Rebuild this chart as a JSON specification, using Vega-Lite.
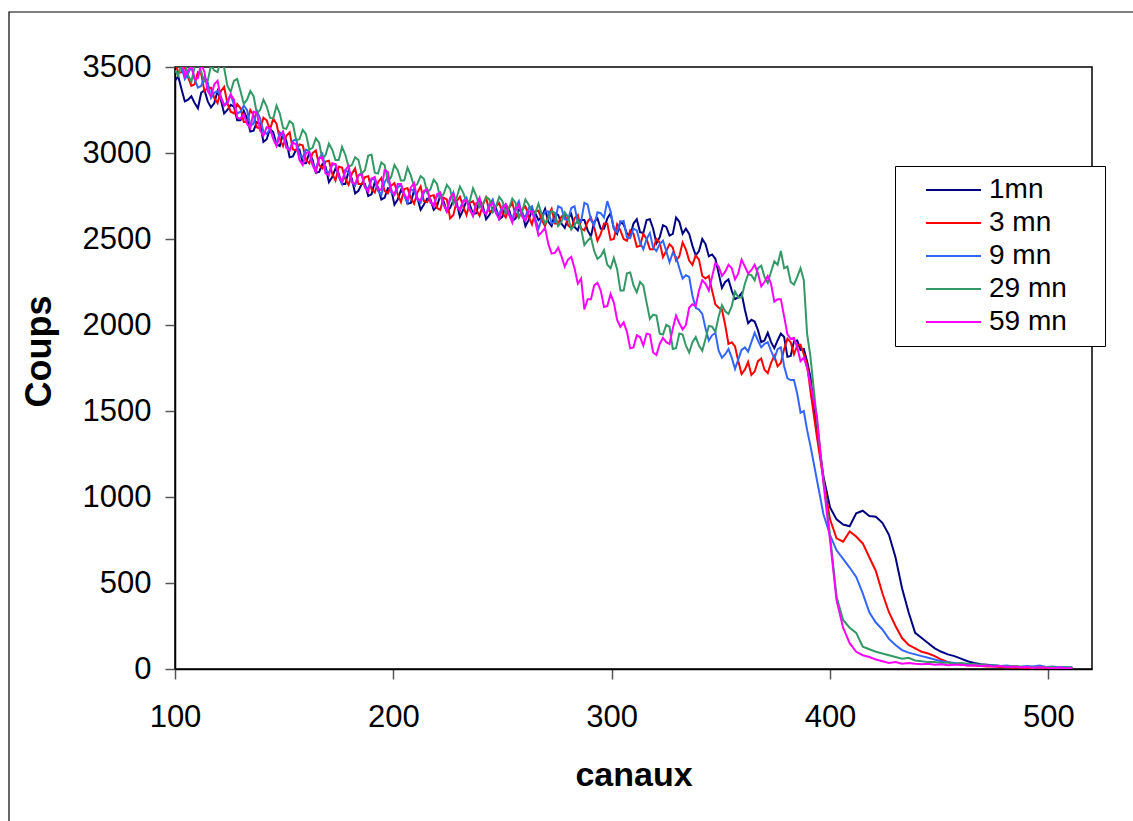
{
  "$schema": "https://vega.github.io/schema/vega-lite/v6.json",
  "width": 917,
  "height": 602,
  "autosize": "none",
  "padding": {"left": 175, "top": 67, "right": 41, "bottom": 152},
  "background": "white",
  "config": {
    "view": {"stroke": "black", "strokeWidth": 1.5},
    "axis": {"grid": false, "labelFont": "Liberation Sans", "titleFont": "Liberation Sans", "labelColor": "black", "titleColor": "black", "domainColor": "black", "domainWidth": 1.5, "tickColor": "#555", "tickSize": 10, "tickWidth": 1.5}
  },
  "layer": [
    {
      "data": {"values": [{"frame": 1}]},
      "mark": {"type": "rect", "fillOpacity": 0, "stroke": "black", "strokeWidth": 1.2, "clip": false},
      "encoding": {"x": {"value": -166}, "y": {"value": -55}, "x2": {"value": 968}, "y2": {"value": 764}}
    },
    {
      "data": {"values": [
        {"c":100,"1mn":3420,"3 mn":3540,"9 mn":3520,"29 mn":3480,"59 mn":3510},
        {"c":101.5,"1mn":3445,"3 mn":3465,"9 mn":3540,"29 mn":3450,"59 mn":3565},
        {"c":103,"1mn":3370,"3 mn":3470,"9 mn":3500,"29 mn":3520,"59 mn":3540},
        {"c":104.5,"1mn":3300,"3 mn":3505,"9 mn":3430,"29 mn":3525,"59 mn":3450},
        {"c":106,"1mn":3310,"3 mn":3440,"9 mn":3460,"29 mn":3450,"59 mn":3480},
        {"c":107.5,"1mn":3330,"3 mn":3390,"9 mn":3505,"29 mn":3415,"59 mn":3505},
        {"c":109,"1mn":3290,"3 mn":3400,"9 mn":3430,"29 mn":3500,"59 mn":3430},
        {"c":110.5,"1mn":3260,"3 mn":3470,"9 mn":3380,"29 mn":3535,"59 mn":3435},
        {"c":112,"1mn":3350,"3 mn":3460,"9 mn":3390,"29 mn":3470,"59 mn":3520},
        {"c":113.5,"1mn":3365,"3 mn":3360,"9 mn":3440,"29 mn":3415,"59 mn":3470},
        {"c":115,"1mn":3300,"3 mn":3380,"9 mn":3410,"29 mn":3420,"59 mn":3360},
        {"c":116.5,"1mn":3265,"3 mn":3380,"9 mn":3320,"29 mn":3510,"59 mn":3330},
        {"c":118,"1mn":3290,"3 mn":3320,"9 mn":3350,"29 mn":3480,"59 mn":3400},
        {"c":119.5,"1mn":3360,"3 mn":3290,"9 mn":3360,"29 mn":3470,"59 mn":3420},
        {"c":121,"1mn":3310,"3 mn":3360,"9 mn":3330,"29 mn":3540,"59 mn":3320},
        {"c":122.5,"1mn":3230,"3 mn":3385,"9 mn":3275,"29 mn":3495,"59 mn":3275},
        {"c":124,"1mn":3250,"3 mn":3290,"9 mn":3300,"29 mn":3390,"59 mn":3290},
        {"c":125.5,"1mn":3280,"3 mn":3240,"9 mn":3340,"29 mn":3355,"59 mn":3340},
        {"c":127,"1mn":3270,"3 mn":3230,"9 mn":3280,"29 mn":3420,"59 mn":3310},
        {"c":128.5,"1mn":3190,"3 mn":3285,"9 mn":3230,"29 mn":3430,"59 mn":3205},
        {"c":130,"1mn":3190,"3 mn":3260,"9 mn":3240,"29 mn":3360,"59 mn":3200},
        {"c":131.5,"1mn":3245,"3 mn":3180,"9 mn":3275,"29 mn":3285,"59 mn":3225},
        {"c":133,"1mn":3200,"3 mn":3180,"9 mn":3250,"29 mn":3310,"59 mn":3170},
        {"c":134.5,"1mn":3125,"3 mn":3250,"9 mn":3160,"29 mn":3360,"59 mn":3145},
        {"c":136,"1mn":3130,"3 mn":3220,"9 mn":3170,"29 mn":3330,"59 mn":3240},
        {"c":137.5,"1mn":3180,"3 mn":3150,"9 mn":3245,"29 mn":3230,"59 mn":3235},
        {"c":139,"1mn":3170,"3 mn":3140,"9 mn":3200,"29 mn":3250,"59 mn":3130},
        {"c":140.5,"1mn":3065,"3 mn":3205,"9 mn":3125,"29 mn":3310,"59 mn":3100},
        {"c":142,"1mn":3080,"3 mn":3190,"9 mn":3110,"29 mn":3270,"59 mn":3150},
        {"c":143.5,"1mn":3140,"3 mn":3135,"9 mn":3140,"29 mn":3205,"59 mn":3145},
        {"c":145,"1mn":3120,"3 mn":3200,"9 mn":3090,"29 mn":3200,"59 mn":3080},
        {"c":146.5,"1mn":3050,"3 mn":3170,"9 mn":3045,"29 mn":3275,"59 mn":3040},
        {"c":148,"1mn":3040,"3 mn":3080,"9 mn":3120,"29 mn":3230,"59 mn":3100},
        {"c":149.5,"1mn":3115,"3 mn":3040,"9 mn":3100,"29 mn":3145,"59 mn":3125},
        {"c":151,"1mn":3070,"3 mn":3100,"9 mn":3040,"29 mn":3140,"59 mn":3030},
        {"c":152.5,"1mn":2975,"3 mn":3120,"9 mn":3015,"29 mn":3185,"59 mn":3015},
        {"c":154,"1mn":2980,"3 mn":3020,"9 mn":3070,"29 mn":3170,"59 mn":3060},
        {"c":155.5,"1mn":3020,"3 mn":3015,"9 mn":3080,"29 mn":3075,"59 mn":3050},
        {"c":157,"1mn":3020,"3 mn":3050,"9 mn":2990,"29 mn":3080,"59 mn":2960},
        {"c":158.5,"1mn":2940,"3 mn":3045,"9 mn":2975,"29 mn":3135,"59 mn":2930},
        {"c":160,"1mn":2940,"3 mn":2960,"9 mn":3020,"29 mn":3110,"59 mn":3000},
        {"c":161.5,"1mn":3000,"3 mn":2940,"9 mn":3010,"29 mn":3020,"59 mn":3005},
        {"c":163,"1mn":2960,"3 mn":3000,"9 mn":2940,"29 mn":3030,"59 mn":2930},
        {"c":164.5,"1mn":2885,"3 mn":3015,"9 mn":2905,"29 mn":3085,"59 mn":2890},
        {"c":166,"1mn":2890,"3 mn":2930,"9 mn":2970,"29 mn":3060,"59 mn":2970},
        {"c":167.5,"1mn":2935,"3 mn":2910,"9 mn":2995,"29 mn":2965,"59 mn":2975},
        {"c":169,"1mn":2920,"3 mn":2950,"9 mn":2900,"29 mn":2990,"59 mn":2880},
        {"c":170.5,"1mn":2830,"3 mn":2955,"9 mn":2885,"29 mn":3055,"59 mn":2870},
        {"c":172,"1mn":2860,"3 mn":2880,"9 mn":2930,"29 mn":3020,"59 mn":2940},
        {"c":173.5,"1mn":2910,"3 mn":2840,"9 mn":2935,"29 mn":2960,"59 mn":2935},
        {"c":175,"1mn":2880,"3 mn":2920,"9 mn":2860,"29 mn":2960,"59 mn":2870},
        {"c":176.5,"1mn":2820,"3 mn":2915,"9 mn":2820,"29 mn":3035,"59 mn":2835},
        {"c":178,"1mn":2820,"3 mn":2850,"9 mn":2900,"29 mn":2990,"59 mn":2900},
        {"c":179.5,"1mn":2895,"3 mn":2815,"9 mn":2885,"29 mn":2920,"59 mn":2925},
        {"c":181,"1mn":2850,"3 mn":2880,"9 mn":2830,"29 mn":2930,"59 mn":2830},
        {"c":182.5,"1mn":2765,"3 mn":2910,"9 mn":2810,"29 mn":2975,"59 mn":2820},
        {"c":184,"1mn":2780,"3 mn":2820,"9 mn":2870,"29 mn":2960,"59 mn":2870},
        {"c":185.5,"1mn":2820,"3 mn":2820,"9 mn":2885,"29 mn":2880,"59 mn":2875},
        {"c":187,"1mn":2820,"3 mn":2860,"9 mn":2800,"29 mn":2900,"59 mn":2800},
        {"c":188.5,"1mn":2750,"3 mn":2865,"9 mn":2795,"29 mn":2985,"59 mn":2775},
        {"c":190,"1mn":2760,"3 mn":2790,"9 mn":2850,"29 mn":2990,"59 mn":2850},
        {"c":191.5,"1mn":2830,"3 mn":2770,"9 mn":2845,"29 mn":2885,"59 mn":2860},
        {"c":193,"1mn":2800,"3 mn":2830,"9 mn":2780,"29 mn":2880,"59 mn":2790},
        {"c":194.5,"1mn":2730,"3 mn":2855,"9 mn":2755,"29 mn":2945,"59 mn":2785},
        {"c":196,"1mn":2740,"3 mn":2780,"9 mn":2830,"29 mn":2930,"59 mn":2900},
        {"c":197.5,"1mn":2795,"3 mn":2765,"9 mn":2860,"29 mn":2835,"59 mn":2890},
        {"c":199,"1mn":2790,"3 mn":2810,"9 mn":2770,"29 mn":2860,"59 mn":2780},
        {"c":200.5,"1mn":2700,"3 mn":2825,"9 mn":2755,"29 mn":2930,"59 mn":2760},
        {"c":202,"1mn":2730,"3 mn":2760,"9 mn":2800,"29 mn":2900,"59 mn":2820},
        {"c":203.5,"1mn":2785,"3 mn":2715,"9 mn":2815,"29 mn":2840,"59 mn":2820},
        {"c":205,"1mn":2760,"3 mn":2790,"9 mn":2750,"29 mn":2840,"59 mn":2760},
        {"c":206.5,"1mn":2705,"3 mn":2795,"9 mn":2710,"29 mn":2915,"59 mn":2730},
        {"c":208,"1mn":2710,"3 mn":2740,"9 mn":2790,"29 mn":2870,"59 mn":2800},
        {"c":209.5,"1mn":2785,"3 mn":2705,"9 mn":2780,"29 mn":2805,"59 mn":2825},
        {"c":211,"1mn":2740,"3 mn":2770,"9 mn":2730,"29 mn":2820,"59 mn":2730},
        {"c":212.5,"1mn":2670,"3 mn":2805,"9 mn":2710,"29 mn":2865,"59 mn":2725},
        {"c":214,"1mn":2700,"3 mn":2720,"9 mn":2770,"29 mn":2850,"59 mn":2780},
        {"c":215.5,"1mn":2735,"3 mn":2715,"9 mn":2790,"29 mn":2770,"59 mn":2790},
        {"c":217,"1mn":2730,"3 mn":2750,"9 mn":2710,"29 mn":2790,"59 mn":2720},
        {"c":218.5,"1mn":2670,"3 mn":2755,"9 mn":2700,"29 mn":2845,"59 mn":2690},
        {"c":220,"1mn":2690,"3 mn":2680,"9 mn":2750,"29 mn":2820,"59 mn":2760},
        {"c":221.5,"1mn":2755,"3 mn":2670,"9 mn":2755,"29 mn":2740,"59 mn":2770},
        {"c":223,"1mn":2720,"3 mn":2740,"9 mn":2700,"29 mn":2760,"59 mn":2700},
        {"c":224.5,"1mn":2660,"3 mn":2730,"9 mn":2665,"29 mn":2815,"59 mn":2660},
        {"c":226,"1mn":2680,"3 mn":2620,"9 mn":2730,"29 mn":2790,"59 mn":2740},
        {"c":227.5,"1mn":2725,"3 mn":2640,"9 mn":2770,"29 mn":2705,"59 mn":2765},
        {"c":229,"1mn":2710,"3 mn":2720,"9 mn":2690,"29 mn":2740,"59 mn":2690},
        {"c":230.5,"1mn":2630,"3 mn":2745,"9 mn":2675,"29 mn":2805,"59 mn":2665},
        {"c":232,"1mn":2670,"3 mn":2690,"9 mn":2720,"29 mn":2770,"59 mn":2720},
        {"c":233.5,"1mn":2725,"3 mn":2640,"9 mn":2740,"29 mn":2715,"59 mn":2725},
        {"c":235,"1mn":2700,"3 mn":2710,"9 mn":2680,"29 mn":2720,"59 mn":2670},
        {"c":236.5,"1mn":2645,"3 mn":2720,"9 mn":2635,"29 mn":2795,"59 mn":2635},
        {"c":238,"1mn":2650,"3 mn":2670,"9 mn":2710,"29 mn":2750,"59 mn":2700},
        {"c":239.5,"1mn":2730,"3 mn":2635,"9 mn":2710,"29 mn":2685,"59 mn":2740},
        {"c":241,"1mn":2690,"3 mn":2700,"9 mn":2670,"29 mn":2700,"59 mn":2660},
        {"c":242.5,"1mn":2615,"3 mn":2740,"9 mn":2645,"29 mn":2745,"59 mn":2645},
        {"c":244,"1mn":2640,"3 mn":2660,"9 mn":2700,"29 mn":2730,"59 mn":2690},
        {"c":245.5,"1mn":2680,"3 mn":2655,"9 mn":2730,"29 mn":2660,"59 mn":2710},
        {"c":247,"1mn":2680,"3 mn":2690,"9 mn":2660,"29 mn":2690,"59 mn":2650},
        {"c":248.5,"1mn":2615,"3 mn":2710,"9 mn":2645,"29 mn":2745,"59 mn":2615},
        {"c":250,"1mn":2630,"3 mn":2650,"9 mn":2690,"29 mn":2720,"59 mn":2680},
        {"c":251.5,"1mn":2700,"3 mn":2625,"9 mn":2700,"29 mn":2650,"59 mn":2700},
        {"c":253,"1mn":2670,"3 mn":2680,"9 mn":2650,"29 mn":2680,"59 mn":2640},
        {"c":254.5,"1mn":2605,"3 mn":2710,"9 mn":2615,"29 mn":2735,"59 mn":2595},
        {"c":256,"1mn":2620,"3 mn":2640,"9 mn":2680,"29 mn":2710,"59 mn":2670},
        {"c":257.5,"1mn":2670,"3 mn":2625,"9 mn":2720,"29 mn":2625,"59 mn":2700},
        {"c":259,"1mn":2660,"3 mn":2670,"9 mn":2640,"29 mn":2660,"59 mn":2630},
        {"c":260.5,"1mn":2575,"3 mn":2690,"9 mn":2630,"29 mn":2730,"59 mn":2605},
        {"c":262,"1mn":2610,"3 mn":2630,"9 mn":2680,"29 mn":2700,"59 mn":2660},
        {"c":263.5,"1mn":2670,"3 mn":2585,"9 mn":2690,"29 mn":2645,"59 mn":2660},
        {"c":265,"1mn":2650,"3 mn":2660,"9 mn":2620,"29 mn":2650,"59 mn":2600},
        {"c":266.5,"1mn":2610,"3 mn":2665,"9 mn":2560,"29 mn":2705,"59 mn":2520},
        {"c":268,"1mn":2630,"3 mn":2610,"9 mn":2620,"29 mn":2640,"59 mn":2540},
        {"c":269.5,"1mn":2675,"3 mn":2575,"9 mn":2660,"29 mn":2590,"59 mn":2565},
        {"c":271,"1mn":2600,"3 mn":2640,"9 mn":2660,"29 mn":2620,"59 mn":2470},
        {"c":272.5,"1mn":2575,"3 mn":2675,"9 mn":2590,"29 mn":2665,"59 mn":2415},
        {"c":274,"1mn":2650,"3 mn":2590,"9 mn":2600,"29 mn":2650,"59 mn":2420},
        {"c":275.5,"1mn":2640,"3 mn":2590,"9 mn":2690,"29 mn":2575,"59 mn":2450},
        {"c":277,"1mn":2590,"3 mn":2630,"9 mn":2680,"29 mn":2600,"59 mn":2400},
        {"c":278.5,"1mn":2565,"3 mn":2645,"9 mn":2615,"29 mn":2655,"59 mn":2340},
        {"c":280,"1mn":2620,"3 mn":2580,"9 mn":2610,"29 mn":2630,"59 mn":2380},
        {"c":281.5,"1mn":2645,"3 mn":2560,"9 mn":2680,"29 mn":2555,"59 mn":2395},
        {"c":283,"1mn":2570,"3 mn":2620,"9 mn":2690,"29 mn":2580,"59 mn":2330},
        {"c":284.5,"1mn":2550,"3 mn":2640,"9 mn":2595,"29 mn":2610,"59 mn":2240},
        {"c":286,"1mn":2610,"3 mn":2560,"9 mn":2600,"29 mn":2560,"59 mn":2270},
        {"c":287.5,"1mn":2610,"3 mn":2550,"9 mn":2710,"29 mn":2465,"59 mn":2090},
        {"c":289,"1mn":2550,"3 mn":2600,"9 mn":2700,"29 mn":2490,"59 mn":2150},
        {"c":290.5,"1mn":2515,"3 mn":2625,"9 mn":2610,"29 mn":2510,"59 mn":2150},
        {"c":292,"1mn":2600,"3 mn":2570,"9 mn":2580,"29 mn":2430,"59 mn":2230},
        {"c":293.5,"1mn":2620,"3 mn":2490,"9 mn":2655,"29 mn":2385,"59 mn":2245},
        {"c":295,"1mn":2560,"3 mn":2530,"9 mn":2650,"29 mn":2400,"59 mn":2200},
        {"c":296.5,"1mn":2560,"3 mn":2590,"9 mn":2625,"29 mn":2435,"59 mn":2105},
        {"c":298,"1mn":2620,"3 mn":2590,"9 mn":2720,"29 mn":2350,"59 mn":2110},
        {"c":299.5,"1mn":2650,"3 mn":2495,"9 mn":2660,"29 mn":2330,"59 mn":2180},
        {"c":301,"1mn":2560,"3 mn":2500,"9 mn":2560,"29 mn":2390,"59 mn":2130},
        {"c":302.5,"1mn":2530,"3 mn":2585,"9 mn":2540,"29 mn":2325,"59 mn":2030},
        {"c":304,"1mn":2600,"3 mn":2550,"9 mn":2600,"29 mn":2200,"59 mn":1990},
        {"c":305.5,"1mn":2585,"3 mn":2500,"9 mn":2605,"29 mn":2200,"59 mn":2015},
        {"c":307,"1mn":2530,"3 mn":2490,"9 mn":2510,"29 mn":2300,"59 mn":1960},
        {"c":308.5,"1mn":2520,"3 mn":2550,"9 mn":2505,"29 mn":2305,"59 mn":1865},
        {"c":310,"1mn":2590,"3 mn":2530,"9 mn":2560,"29 mn":2230,"59 mn":1870},
        {"c":311.5,"1mn":2615,"3 mn":2455,"9 mn":2550,"29 mn":2190,"59 mn":1940},
        {"c":313,"1mn":2540,"3 mn":2460,"9 mn":2480,"29 mn":2250,"59 mn":1930},
        {"c":314.5,"1mn":2535,"3 mn":2530,"9 mn":2440,"29 mn":2230,"59 mn":1880},
        {"c":316,"1mn":2610,"3 mn":2500,"9 mn":2500,"29 mn":2130,"59 mn":1950},
        {"c":317.5,"1mn":2615,"3 mn":2440,"9 mn":2535,"29 mn":2035,"59 mn":1945},
        {"c":319,"1mn":2560,"3 mn":2440,"9 mn":2450,"29 mn":2060,"59 mn":1840},
        {"c":320.5,"1mn":2475,"3 mn":2500,"9 mn":2430,"29 mn":2055,"59 mn":1825},
        {"c":322,"1mn":2510,"3 mn":2480,"9 mn":2470,"29 mn":1950,"59 mn":1890},
        {"c":323.5,"1mn":2580,"3 mn":2395,"9 mn":2490,"29 mn":1945,"59 mn":1925},
        {"c":325,"1mn":2570,"3 mn":2430,"9 mn":2430,"29 mn":2000,"59 mn":1900},
        {"c":326.5,"1mn":2520,"3 mn":2470,"9 mn":2365,"29 mn":1990,"59 mn":1890},
        {"c":328,"1mn":2530,"3 mn":2450,"9 mn":2420,"29 mn":1860,"59 mn":1980},
        {"c":329.5,"1mn":2625,"3 mn":2375,"9 mn":2395,"29 mn":1865,"59 mn":2055},
        {"c":331,"1mn":2600,"3 mn":2400,"9 mn":2330,"29 mn":1950,"59 mn":2010},
        {"c":332.5,"1mn":2530,"3 mn":2480,"9 mn":2270,"29 mn":1945,"59 mn":1975},
        {"c":334,"1mn":2560,"3 mn":2440,"9 mn":2290,"29 mn":1880,"59 mn":2000},
        {"c":335.5,"1mn":2530,"3 mn":2375,"9 mn":2280,"29 mn":1840,"59 mn":2100},
        {"c":337,"1mn":2460,"3 mn":2350,"9 mn":2170,"29 mn":1900,"59 mn":2120},
        {"c":338.5,"1mn":2405,"3 mn":2405,"9 mn":2100,"29 mn":1930,"59 mn":2110},
        {"c":340,"1mn":2430,"3 mn":2380,"9 mn":2090,"29 mn":1880,"59 mn":2200},
        {"c":341.5,"1mn":2500,"3 mn":2285,"9 mn":2065,"29 mn":1850,"59 mn":2260},
        {"c":343,"1mn":2470,"3 mn":2270,"9 mn":1980,"29 mn":1920,"59 mn":2240},
        {"c":344.5,"1mn":2400,"3 mn":2285,"9 mn":1910,"29 mn":1995,"59 mn":2200},
        {"c":346,"1mn":2410,"3 mn":2200,"9 mn":1940,"29 mn":1990,"59 mn":2280},
        {"c":347.5,"1mn":2385,"3 mn":2120,"9 mn":1955,"29 mn":1960,"59 mn":2360},
        {"c":349,"1mn":2300,"3 mn":2100,"9 mn":1850,"29 mn":2050,"59 mn":2340},
        {"c":350.5,"1mn":2215,"3 mn":2090,"9 mn":1810,"29 mn":2115,"59 mn":2285},
        {"c":352,"1mn":2250,"3 mn":2000,"9 mn":1830,"29 mn":2080,"59 mn":2310},
        {"c":353.5,"1mn":2265,"3 mn":1890,"9 mn":1860,"29 mn":2065,"59 mn":2350},
        {"c":355,"1mn":2200,"3 mn":1900,"9 mn":1810,"29 mn":2110,"59 mn":2330},
        {"c":356.5,"1mn":2150,"3 mn":1875,"9 mn":1745,"29 mn":2195,"59 mn":2265},
        {"c":358,"1mn":2160,"3 mn":1790,"9 mn":1800,"29 mn":2160,"59 mn":2300},
        {"c":359.5,"1mn":2185,"3 mn":1715,"9 mn":1855,"29 mn":2160,"59 mn":2380},
        {"c":361,"1mn":2090,"3 mn":1740,"9 mn":1870,"29 mn":2240,"59 mn":2340},
        {"c":362.5,"1mn":2010,"3 mn":1785,"9 mn":1845,"29 mn":2295,"59 mn":2300},
        {"c":364,"1mn":2030,"3 mn":1710,"9 mn":1900,"29 mn":2290,"59 mn":2320},
        {"c":365.5,"1mn":2020,"3 mn":1730,"9 mn":1955,"29 mn":2260,"59 mn":2350},
        {"c":367,"1mn":1970,"3 mn":1790,"9 mn":1910,"29 mn":2330,"59 mn":2300},
        {"c":368.5,"1mn":1900,"3 mn":1805,"9 mn":1870,"29 mn":2345,"59 mn":2225},
        {"c":370,"1mn":1910,"3 mn":1740,"9 mn":1890,"29 mn":2280,"59 mn":2250},
        {"c":371.5,"1mn":1955,"3 mn":1720,"9 mn":1900,"29 mn":2245,"59 mn":2285},
        {"c":373,"1mn":1900,"3 mn":1780,"9 mn":1850,"29 mn":2310,"59 mn":2240},
        {"c":374.5,"1mn":1865,"3 mn":1820,"9 mn":1805,"29 mn":2370,"59 mn":2135},
        {"c":376,"1mn":1910,"3 mn":1760,"9 mn":1860,"29 mn":2350,"59 mn":2150},
        {"c":377.5,"1mn":1950,"3 mn":1780,"9 mn":1870,"29 mn":2430,"59 mn":2150},
        {"c":379,"1mn":1930,"3 mn":1860,"9 mn":1760,"29 mn":2330,"59 mn":2050},
        {"c":380.5,"1mn":1815,"3 mn":1920,"9 mn":1690,"29 mn":2340,"59 mn":1945},
        {"c":382,"1mn":1820,"3 mn":1900,"9 mn":1680,"29 mn":2250,"59 mn":1920},
        {"c":383.5,"1mn":1905,"3 mn":1830,"9 mn":1680,"29 mn":2235,"59 mn":1925},
        {"c":385,"1mn":1910,"3 mn":1880,"9 mn":1600,"29 mn":2280,"59 mn":1870},
        {"c":386.5,"1mn":1855,"3 mn":1885,"9 mn":1490,"29 mn":2330,"59 mn":1790},
        {"c":388,"1mn":1860,"3 mn":1830,"9 mn":1500,"29 mn":2260,"59 mn":1810},
        {"c":389.5,"1mn":1790,"3 mn":1770,"9 mn":1390,"29 mn":1950,"59 mn":1750},
        {"c":391,"1mn":1700,"3 mn":1620,"9 mn":1300,"29 mn":1820,"59 mn":1660},
        {"c":394,"1mn":1380,"3 mn":1350,"9 mn":1100,"29 mn":1450,"59 mn":1470},
        {"c":397,"1mn":1120,"3 mn":1100,"9 mn":900,"29 mn":1100,"59 mn":1080},
        {"c":400,"1mn":940,"3 mn":870,"9 mn":780,"29 mn":780,"59 mn":750},
        {"c":403,"1mn":870,"3 mn":760,"9 mn":690,"29 mn":420,"59 mn":400},
        {"c":406,"1mn":840,"3 mn":740,"9 mn":640,"29 mn":285,"59 mn":240},
        {"c":409,"1mn":830,"3 mn":800,"9 mn":590,"29 mn":240,"59 mn":150},
        {"c":412,"1mn":905,"3 mn":770,"9 mn":535,"29 mn":210,"59 mn":100},
        {"c":415,"1mn":920,"3 mn":730,"9 mn":440,"29 mn":130,"59 mn":80},
        {"c":418,"1mn":890,"3 mn":650,"9 mn":330,"29 mn":115,"59 mn":70},
        {"c":421,"1mn":885,"3 mn":570,"9 mn":270,"29 mn":100,"59 mn":55},
        {"c":424,"1mn":850,"3 mn":440,"9 mn":230,"29 mn":90,"59 mn":45},
        {"c":427,"1mn":780,"3 mn":330,"9 mn":175,"29 mn":80,"59 mn":35},
        {"c":430,"1mn":650,"3 mn":250,"9 mn":140,"29 mn":70,"59 mn":40},
        {"c":433,"1mn":470,"3 mn":180,"9 mn":110,"29 mn":60,"59 mn":30},
        {"c":436,"1mn":330,"3 mn":140,"9 mn":95,"29 mn":65,"59 mn":35},
        {"c":439,"1mn":210,"3 mn":120,"9 mn":85,"29 mn":50,"59 mn":30},
        {"c":442,"1mn":180,"3 mn":100,"9 mn":75,"29 mn":45,"59 mn":28},
        {"c":445,"1mn":150,"3 mn":90,"9 mn":65,"29 mn":40,"59 mn":30},
        {"c":448,"1mn":120,"3 mn":75,"9 mn":55,"29 mn":40,"59 mn":25},
        {"c":451,"1mn":100,"3 mn":55,"9 mn":45,"29 mn":35,"59 mn":28},
        {"c":454,"1mn":85,"3 mn":40,"9 mn":40,"29 mn":38,"59 mn":22},
        {"c":457,"1mn":75,"3 mn":30,"9 mn":35,"29 mn":30,"59 mn":25},
        {"c":460,"1mn":60,"3 mn":25,"9 mn":30,"29 mn":35,"59 mn":25},
        {"c":463,"1mn":45,"3 mn":22,"9 mn":28,"29 mn":30,"59 mn":20},
        {"c":466,"1mn":35,"3 mn":20,"9 mn":25,"29 mn":28,"59 mn":22},
        {"c":469,"1mn":28,"3 mn":18,"9 mn":22,"29 mn":25,"59 mn":18},
        {"c":472,"1mn":25,"3 mn":15,"9 mn":20,"29 mn":22,"59 mn":20},
        {"c":475,"1mn":20,"3 mn":15,"9 mn":22,"29 mn":20,"59 mn":15},
        {"c":478,"1mn":18,"3 mn":12,"9 mn":18,"29 mn":18,"59 mn":18},
        {"c":481,"1mn":15,"3 mn":10,"9 mn":20,"29 mn":15,"59 mn":12},
        {"c":484,"1mn":15,"3 mn":8,"9 mn":15,"29 mn":18,"59 mn":15},
        {"c":487,"1mn":12,"3 mn":10,"9 mn":12,"29 mn":15,"59 mn":10},
        {"c":490,"1mn":12,"3 mn":5,"9 mn":18,"29 mn":12,"59 mn":12},
        {"c":493,"1mn":10,"3 mn":8,"9 mn":15,"29 mn":10,"59 mn":8},
        {"c":496,"1mn":10,"3 mn":5,"9 mn":20,"29 mn":12,"59 mn":10},
        {"c":499,"1mn":8,"3 mn":5,"9 mn":12,"29 mn":10,"59 mn":8},
        {"c":502,"1mn":8,"3 mn":3,"9 mn":15,"29 mn":12,"59 mn":5},
        {"c":505,"1mn":10,"3 mn":5,"9 mn":10,"29 mn":8,"59 mn":8},
        {"c":508,"1mn":8,"3 mn":3,"9 mn":12,"29 mn":10,"59 mn":5},
        {"c":511,"1mn":5,"3 mn":5,"9 mn":10,"29 mn":8,"59 mn":5}
      ]},
      "transform": [{"fold": ["1mn", "3 mn", "9 mn", "29 mn", "59 mn"], "as": ["serie", "coups"]}],
      "mark": {"type": "line", "strokeWidth": 2, "clip": true},
      "encoding": {
        "x": {
          "field": "c", "type": "quantitative",
          "scale": {"domain": [100, 520], "nice": false, "zero": false},
          "axis": {"values": [100, 200, 300, 400, 500], "format": "d", "labelFlush": false, "title": "canaux", "labelFontSize": 31, "labelPadding": 23, "titleFontSize": 34, "titleFontWeight": "bold", "titleY": 116, "titleBaseline": "alphabetic"}
        },
        "y": {
          "field": "coups", "type": "quantitative",
          "scale": {"domain": [0, 3500], "nice": false},
          "axis": {"values": [0, 500, 1000, 1500, 2000, 2500, 3000, 3500], "format": "d", "labelFlush": false, "title": "Coups", "labelFontSize": 31, "labelPadding": 14, "titleFontSize": 36, "titleFontWeight": "bold", "titleX": -125, "titleY": 284, "titleAngle": 270, "titleAlign": "center", "titleBaseline": "alphabetic"}
        },
        "color": {
          "field": "serie", "type": "nominal",
          "scale": {"domain": ["1mn", "3 mn", "9 mn", "29 mn", "59 mn"], "range": ["#000080", "#FF0000", "#3366FF", "#339966", "#FF00FF"]},
          "legend": {
            "orient": "none", "legendX": 720, "legendY": 99, "title": null,
            "symbolType": "M1.4,0H12.4M34.4,0H34.4", "symbolSize": 100, "symbolStrokeWidth": 2,
            "labelFontSize": 28, "labelFont": "Liberation Sans", "labelColor": "black", "labelOffset": 56,
            "rowPadding": 5, "padding": 10, "strokeColor": "black", "fillColor": "white"
          }
        },
        "order": {"field": "c", "type": "quantitative"}
      }
    }
  ]
}
